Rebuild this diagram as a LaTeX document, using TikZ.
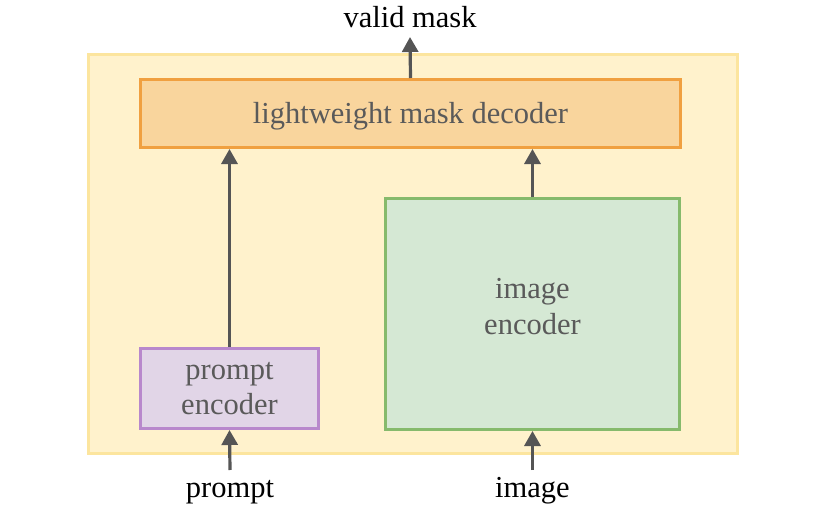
\documentclass[tikz,border=0pt]{standalone}
\usepackage{fontspec}
\setmainfont{Liberation Serif}
\usetikzlibrary{arrows.meta}
\definecolor{outerfill}{HTML}{FFF2CC}
\definecolor{outerline}{HTML}{FCE59E}
\definecolor{decfill}{HTML}{F9D59D}
\definecolor{decline}{HTML}{F0A040}
\definecolor{pefill}{HTML}{E1D5E7}
\definecolor{peline}{HTML}{B888CC}
\definecolor{iefill}{HTML}{D5E8D4}
\definecolor{ieline}{HTML}{86BA6C}
\definecolor{arrowc}{HTML}{555555}
\definecolor{boxtext}{HTML}{5A5A5A}
\begin{document}
\begin{tikzpicture}[x=1pt,y=-1pt,
  box/.style={draw,line width=3pt,inner sep=0pt,align=center,text=boxtext,font=\fontsize{30.5}{35}\selectfont},
  boxtext/.style={inner sep=0pt,align=center,text=boxtext,font=\fontsize{30.5}{36}\selectfont},
  iolabel/.style={inner sep=0pt,text height=20pt,text depth=6pt,outer sep=3pt,font=\fontsize{30.5}{36}\selectfont},
  flow/.style={draw=arrowc,line width=3.2pt,-{Triangle[width=16pt,length=15pt]}}]
\useasboundingbox (0,0) rectangle (839,519);
\node[draw=outerline,fill=outerfill,line width=3pt,minimum width=649pt,minimum height=399pt,inner sep=0pt] (outer) at (413,254) {};
\node[box,draw=decline,fill=decfill,minimum width=540pt,minimum height=68pt,text height=22pt,text depth=2pt] (dec) at (410.5,113.5) {lightweight mask decoder};
\node[box,draw=peline,fill=pefill,minimum width=178pt,minimum height=80pt] (pe) at (229.5,388.5) {prompt\\encoder};
\node[box,draw=ieline,fill=iefill,minimum width=294pt,minimum height=231pt] (ie) at (532.5,314) {};
\node[boxtext] (iet) at ([yshift=7pt]ie.center) {image\\encoder};
\node[iolabel,anchor=base] (vm) at (410,28) {valid mask};
\node[iolabel,anchor=base,outer sep=7pt] (pr) at (230,497) {prompt};
\node[iolabel,anchor=base,outer sep=7pt] (im) at (532.5,497) {image};
\draw[flow] (dec.north) -- (vm.south);
\draw[flow] (pe.north) -- (pe.north |- dec.south);
\draw[flow] (ie.north) -- (ie.north |- dec.south);
\draw[flow] (pr.north) -- (pe.south);
\draw[flow] (im.north) -- (ie.south);
\end{tikzpicture}
\end{document}
